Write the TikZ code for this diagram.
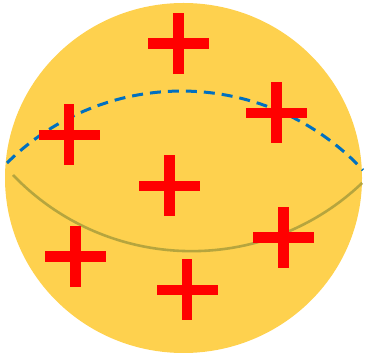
\documentclass[tikz,border=0pt]{standalone}
\definecolor{ballyellow}{RGB}{254,209,78}
\definecolor{arcblue}{RGB}{0,112,192}
\definecolor{arcolive}{RGB}{182,165,62}
\definecolor{plusred}{RGB}{255,0,0}
\tikzset{
  plussign/.pic={
    \fill[plusred] (-30.5,-5.25) rectangle (30.5,5.25);
    \fill[plusred] (-5.25,-30.5) rectangle (5.25,30.5);
  },
  dashedarc/.style={draw=arcblue, line width=3pt, dash pattern=on 11pt off 7pt},
  solidarc/.style={draw=arcolive, line width=2.6pt},
}
\begin{document}
\begin{tikzpicture}[x=1pt,y=1pt]
\useasboundingbox (0,0) rectangle (366,355);
% ball
\fill[ballyellow] (183.5,177) ellipse [x radius=178.5, y radius=175];
% arcs
\coordinate (dstart) at (7,192);
\draw[dashedarc] (dstart) arc[start angle=134.8, end angle=42.9, radius=247.7];
\coordinate (ostart) at (13,180);
\draw[solidarc] (ostart) arc[start angle=-136.2, end angle=-46.4, radius=247.4];
% plus signs
\pic at (178.5,311.5) {plussign};
\pic at (69,220) {plussign};
\pic at (276.5,242) {plussign};
\pic at (169.5,169) {plussign};
\pic at (75.5,98.5) {plussign};
\pic at (187,65) {plussign};
\pic at (283.5,117.5) {plussign};
\end{tikzpicture}
\end{document}
